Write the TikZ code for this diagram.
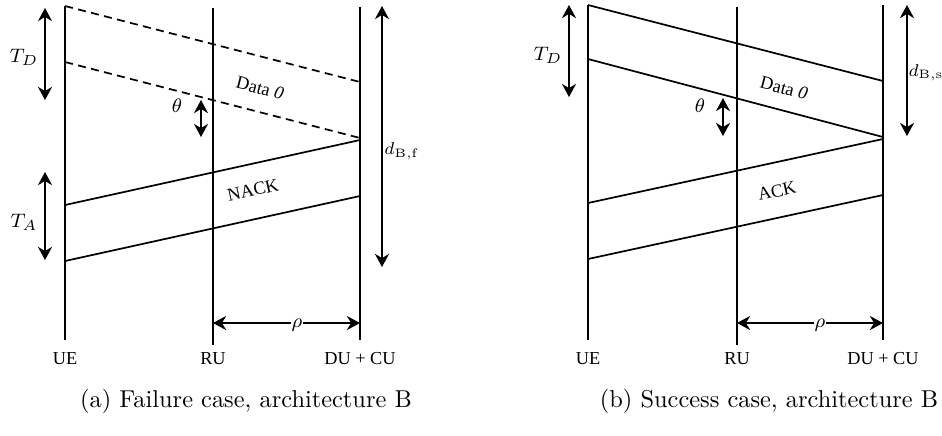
\documentclass[tikz,border=0pt]{standalone}
\usepackage{fontspec}
\newfontfamily\timesf{Liberation Serif}
\usetikzlibrary{arrows.meta}
\tikzset{
  life/.style={line width=0.7pt},
  msg/.style={line width=0.7pt},
  msgd/.style={line width=0.7pt, dash pattern=on 3.3pt off 2.2pt},
  dbl/.style={line width=0.7pt, {Stealth[length=5.4pt,width=5.8pt]}-{Stealth[length=5.4pt,width=5.8pt]}},
  lbl/.style={font=\timesf\fontsize{7.5}{8}\selectfont, inner sep=0pt},
  mlbl/.style={font=\fontsize{8.2}{9}\selectfont, inner sep=0pt},
  dlbl/.style={font=\fontsize{7}{8}\selectfont, inner sep=0pt, anchor=west},
  slbl/.style={font=\fontsize{7.8}{8}\selectfont, inner sep=0pt},
  captext/.style={font=\fontsize{10}{12}\selectfont, inner sep=0pt}
}
\begin{document}
\begin{tikzpicture}[x=0.41pt,y=-0.41pt]
\useasboundingbox (0,0) rectangle (942,435);
% ---------- panel (a)
\coordinate (aUEt) at (65,6);   \coordinate (aUEb) at (65,340);
\coordinate (aRUt) at (213,8);  \coordinate (aRUb) at (213,345);
\coordinate (aDUt) at (360,7);  \coordinate (aDUb) at (360,340);
\draw[life] (aUEt) -- (aUEb);
\draw[life] (aRUt) -- (aRUb);
\draw[life] (aDUt) -- (aDUb);
\coordinate (ad1s) at (65,6);   \coordinate (ad1e) at (360,82);
\coordinate (ad2s) at (65,62);  \coordinate (ad2e) at (360,138);
\draw[msgd] (ad1s) -- (ad1e);
\draw[msgd] (ad2s) -- (ad2e);
\coordinate (an1s) at (360,140); \coordinate (an1e) at (65,205);
\coordinate (an2s) at (360,196); \coordinate (an2e) at (65,261);
\draw[msg] (an1s) -- (an1e);
\draw[msg] (an2s) -- (an2e);
\coordinate (aTDt) at (45,8);   \coordinate (aTDb) at (45,100);
\draw[dbl] (aTDt) -- (aTDb);
\node[mlbl] (aTD) at (24,57) {$T_D$};
\coordinate (athT) at (201,100); \coordinate (athB) at (201,137);
\draw[dbl] (athT) -- (athB);
\node[slbl] (ath) at (177,106) {$\theta$};
\coordinate (aTAt) at (45,172); \coordinate (aTAb) at (45,260);
\draw[dbl] (aTAt) -- (aTAb);
\node[mlbl] (aTA) at (24,222) {$T_A$};
\coordinate (adt) at (382,6); \coordinate (adb) at (382,267);
\draw[dbl] (adt) -- (adb);
\node[dlbl] (adl) at (384,151) {$d_{\mathrm{B,f}}$};
\coordinate (arl) at (213,323); \coordinate (arr) at (360,323);
\draw[dbl] (arl) -- (arr);
\node[slbl, fill=white, inner sep=0.4pt] (arho) at (297,325) {$\rho$};
\node[lbl] (aUE) at (65,359) {UE};
\node[lbl] (aRU) at (213,359) {RU};
\node[lbl] (aDU) at (360,359) {DU + CU};
\node[lbl, rotate=-14.5] (adata) at (260,88) {Data \textit{0}};
\node[lbl, rotate=12.4] (anack) at (253,190) {NACK};
\node[captext] (acap) at (246,401) {(a) Failure case, architecture B};
% ---------- panel (b)
\coordinate (bUEt) at (588,5);   \coordinate (bUEb) at (588,340);
\coordinate (bRUt) at (737,7);   \coordinate (bRUb) at (737,345);
\coordinate (bDUt) at (883,5);   \coordinate (bDUb) at (883,340);
\draw[life] (bUEt) -- (bUEb);
\draw[life] (bRUt) -- (bRUb);
\draw[life] (bDUt) -- (bDUb);
\coordinate (bd1s) at (588,5);   \coordinate (bd1e) at (883,81);
\coordinate (bd2s) at (588,59);  \coordinate (bd2e) at (883,137);
\draw[msg] (bd1s) -- (bd1e);
\draw[msg] (bd2s) -- (bd2e);
\coordinate (bn1s) at (883,139); \coordinate (bn1e) at (588,203);
\coordinate (bn2s) at (883,195); \coordinate (bn2e) at (588,259);
\draw[msg] (bn1s) -- (bn1e);
\draw[msg] (bn2s) -- (bn2e);
\coordinate (bTDt) at (569,5);   \coordinate (bTDb) at (569,97);
\draw[dbl] (bTDt) -- (bTDb);
\node[mlbl] (bTD) at (548,55) {$T_D$};
\coordinate (bthT) at (723,98); \coordinate (bthB) at (723,136);
\draw[dbl] (bthT) -- (bthB);
\node[slbl] (bth) at (700,106) {$\theta$};
\coordinate (bdt) at (907,5); \coordinate (bdb) at (907,136);
\draw[dbl] (bdt) -- (bdb);
\node[dlbl] (bdl) at (908,73) {$d_{\mathrm{B,s}}$};
\coordinate (brl) at (737,323); \coordinate (brr) at (883,323);
\draw[dbl] (brl) -- (brr);
\node[slbl, fill=white, inner sep=0.4pt] (brho) at (820,325) {$\rho$};
\node[lbl] (bUE) at (588,359) {UE};
\node[lbl] (bRU) at (737,359) {RU};
\node[lbl] (bDU) at (883,359) {DU + CU};
\node[lbl, rotate=-14.5] (bdata) at (784,88) {Data \textit{0}};
\node[lbl, rotate=12.4] (back) at (777,191) {ACK};
\node[captext] (bcap) at (769,401) {(b) Success case, architecture B};
\end{tikzpicture}
\end{document}
